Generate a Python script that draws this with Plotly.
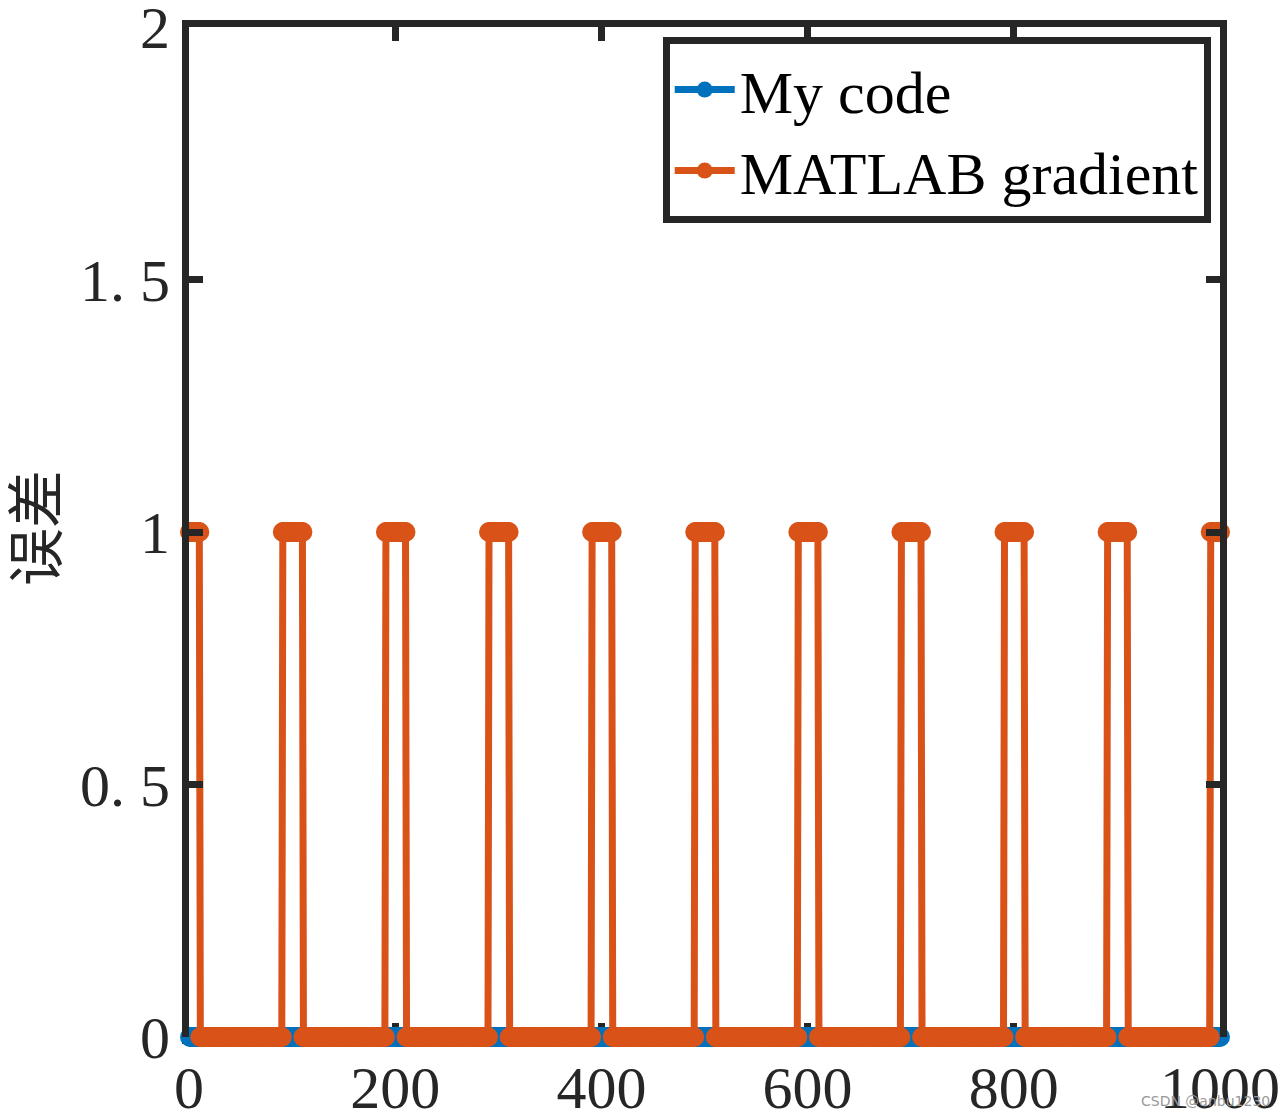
import numpy as np
import plotly.graph_objects as go

# ---- data ----
n_samples = 1000
sample_index = list(range(1, n_samples + 1))
mycode_error = [0] * n_samples                     # "My code": zero everywhere
# "MATLAB gradient": error is 1 on these index runs, 0 elsewhere
err_run_start = [1, 91, 191, 291, 391, 491, 591, 691, 791, 891, 991]
err_run_end = [10, 110, 210, 310, 410, 510, 610, 710, 810, 910, 1000]
xtick_vals = [0, 200, 400, 600, 800, 1000]
xtick_text = ["0", "200", "400", "600", "800", "1000"]
ytick_vals = [0, 0.5, 1, 1.5, 2]
ytick_text = ["0", "0. 5", "1", "1. 5", "2"]
y_title = "误差"

matlab_error = [0] * n_samples
for s, e in zip(err_run_start, err_run_end):
    for i in range(s, e + 1):
        matlab_error[i - 1] = 1

BLUE = "#0072BD"
ORANGE = "#D95319"
AX = "#262626"
SERIF = "Liberation Serif, Times New Roman, serif"

fig = go.Figure()
fig.add_trace(go.Scatter(
    x=sample_index, y=mycode_error, mode="lines+markers", name="My code",
    line=dict(color=BLUE, width=7), marker=dict(color=BLUE, size=20),
    cliponaxis=False))
fig.add_trace(go.Scatter(
    x=sample_index, y=matlab_error, mode="lines+markers", name="MATLAB gradient",
    line=dict(color=ORANGE, width=7), marker=dict(color=ORANGE, size=20),
    cliponaxis=False))

axis_common = dict(
    showline=True, linecolor=AX, linewidth=7, mirror="ticks",
    ticks="inside", ticklen=14, tickwidth=7, tickcolor=AX,
    showgrid=False, zeroline=False, automargin=False,
    ticklabeloverflow="allow",
    tickfont=dict(family=SERIF, size=60, color=AX),
)
fig.update_xaxes(range=[0, 1000], tickvals=xtick_vals, ticktext=xtick_text,
                 layer="below traces", ticklabelstandoff=-8, **axis_common)
fig.update_yaxes(range=[0, 2], tickvals=ytick_vals, ticktext=ytick_text, **axis_common)

fig.update_layout(
    template="none",
    width=1286, height=1113,
    margin=dict(l=181, r=74, t=19, b=84),
    plot_bgcolor="white", paper_bgcolor="white",
    showlegend=True,
    legend=dict(
        x=0.991, y=0.99, xanchor="right", yanchor="top",
        bgcolor="white", bordercolor=AX, borderwidth=7,
        font=dict(family=SERIF, size=60, color="black"),
        tracegroupgap=0, itemwidth=60,
    ),
    annotations=[
        dict(text=y_title, x=0, y=0.5, xref="paper", yref="paper",
             xanchor="center", yanchor="middle", xshift=-157, yshift=4,
             textangle=-90, showarrow=False,
             font=dict(family="Noto Sans CJK SC", size=58, color=AX)),
        dict(text="CSDN @anbu1230", x=1.0, y=0, xref="paper", yref="paper",
             xanchor="right", yanchor="top", xshift=52, yshift=-54, showarrow=False,
             font=dict(family="DejaVu Sans, sans-serif", size=14, color="#999999")),
    ],
)

fig.write_html("out.html")
